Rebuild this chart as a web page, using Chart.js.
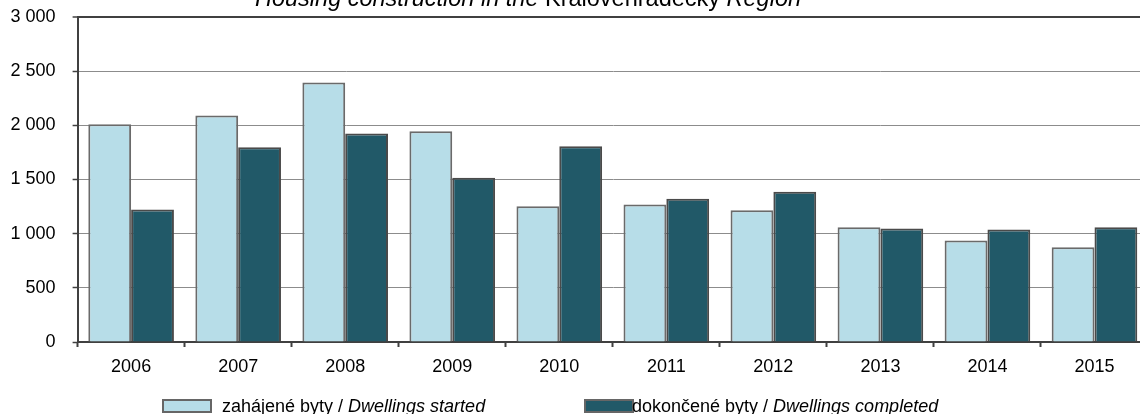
<!DOCTYPE html>
<html>
<head>
<meta charset="utf-8">
<script src="https://cdn.jsdelivr.net/npm/chart.js@4/dist/chart.umd.min.js"></script>
<style>
  html, body { margin: 0; padding: 0; background: #fff; overflow: hidden; }
  #wrap { width: 1148px; height: 414px; }
</style>
</head>
<body>
<div id="wrap"><canvas id="housingChart" width="1148" height="414"></canvas></div>
<script>
// roky (osa X)
const years = ['2006', '2007', '2008', '2009', '2010', '2011', '2012', '2013', '2014', '2015'];
// zahájené byty / Dwellings started
const started = [2010, 2090, 2395, 1946, 1254, 1269, 1217, 1060, 937, 875];
// dokončené byty / Dwellings completed
const completed = [1223, 1798, 1925, 1516, 1808, 1322, 1387, 1048, 1038, 1060];
// popisky legendy: česky (normální) + anglicky (kurzíva)
const legendCz = ['zahájené byty / ', 'dokončené byty / '];
const legendEn = ['Dwellings started', 'Dwellings completed'];
// titulek (jen spodní řádek je vidět)
const titleParts = [['Housing construction in the ', true], ['Královéhradecký', false], [' Region', true]];

const FONT = '"Liberation Sans", Arial, sans-serif';
const FS = 18;

// vlastní titulek a legenda (smíšené písmo normal/italic)
const textPlugin = {
    id: 'textPlugin',
    afterDraw(chart) {
        const ctx = chart.ctx;
        ctx.save();
        ctx.fillStyle = '#000';
        ctx.textBaseline = 'alphabetic';

        // titulek
        const tfs = 23.5;
        let total = 0;
        titleParts.forEach(p => {
            ctx.font = (p[1] ? 'italic ' : '') + tfs + 'px ' + FONT;
            total += ctx.measureText(p[0]).width;
        });
        let x = 528 - total / 2;
        titleParts.forEach(p => {
            ctx.font = (p[1] ? 'italic ' : '') + tfs + 'px ' + FONT;
            ctx.fillText(p[0], x, 6);
            x += ctx.measureText(p[0]).width;
        });

        // legenda
        const boxX = [163, 585];
        const textX = [222, 632];
        chart.data.datasets.forEach((ds, i) => {
            ctx.fillStyle = ds.backgroundColor;
            ctx.fillRect(boxX[i], 400, 48, 12);
            ctx.strokeStyle = '#666';
            ctx.lineWidth = 2;
            ctx.strokeRect(boxX[i], 400, 48, 12);
            ctx.fillStyle = '#000';
            ctx.font = FS + 'px ' + FONT;
            ctx.fillText(legendCz[i], textX[i], 412);
            const w = ctx.measureText(legendCz[i]).width;
            ctx.font = 'italic ' + FS + 'px ' + FONT;
            ctx.fillText(legendEn[i], textX[i] + w, 412);
        });
        ctx.restore();
    }
};

const ctx = document.getElementById('housingChart').getContext('2d');
new Chart(ctx, {
    type: 'bar',
    data: {
        labels: years,
        datasets: [{
            label: legendCz[0] + legendEn[0],
            data: started,
            backgroundColor: '#b7dde8',
            borderColor: '#6a6a6a',
            borderWidth: 2,
            categoryPercentage: 0.8,
            barPercentage: 1.0
        }, {
            label: legendCz[1] + legendEn[1],
            data: completed,
            backgroundColor: '#215968',
            borderColor: '#4a4a4a',
            borderWidth: 2,
            categoryPercentage: 0.8,
            barPercentage: 1.0
        }]
    },
    options: {
        responsive: false,
        animation: false,
        layout: { padding: { top: 17, right: 0, left: 0, bottom: 0 } },
        plugins: {
            legend: { display: false },
            title: { display: false },
            tooltip: { enabled: false }
        },
        scales: {
            x: {
                grid: {
                    offset: true,
                    drawOnChartArea: false,
                    drawTicks: true,
                    tickLength: 5,
                    tickColor: '#404040',
                    tickWidth: 2
                },
                border: { color: '#404040', width: 2 },
                ticks: {
                    color: '#000',
                    font: { family: FONT, size: FS },
                    padding: 9,
                    maxRotation: 0
                },
                afterFit(scale) {
                    scale.height = 72;
                    scale.paddingLeft = 0;
                    scale.paddingRight = 0;
                }
            },
            y: {
                min: 0,
                max: 3000,
                grid: {
                    color: ctx => ctx.tick && ctx.tick.value === 3000 ? '#404040' : '#8c8c8c',
                    lineWidth: ctx => ctx.tick && ctx.tick.value === 3000 ? 2 : 1,
                    tickLength: 5,
                    tickColor: '#404040',
                    tickWidth: 1.5
                },
                border: { color: '#404040', width: 2 },
                ticks: {
                    stepSize: 500,
                    color: '#000',
                    font: { family: FONT, size: FS },
                    padding: 17,
                    callback: v => v.toLocaleString('cs-CZ').replace(/\s/g, ' ')
                },
                afterFit(scale) {
                    scale.width = 77.6;
                    scale.paddingTop = 0;
                    scale.paddingBottom = 0;
                }
            }
        }
    },
    plugins: [textPlugin]
});
</script>
</body>
</html>
